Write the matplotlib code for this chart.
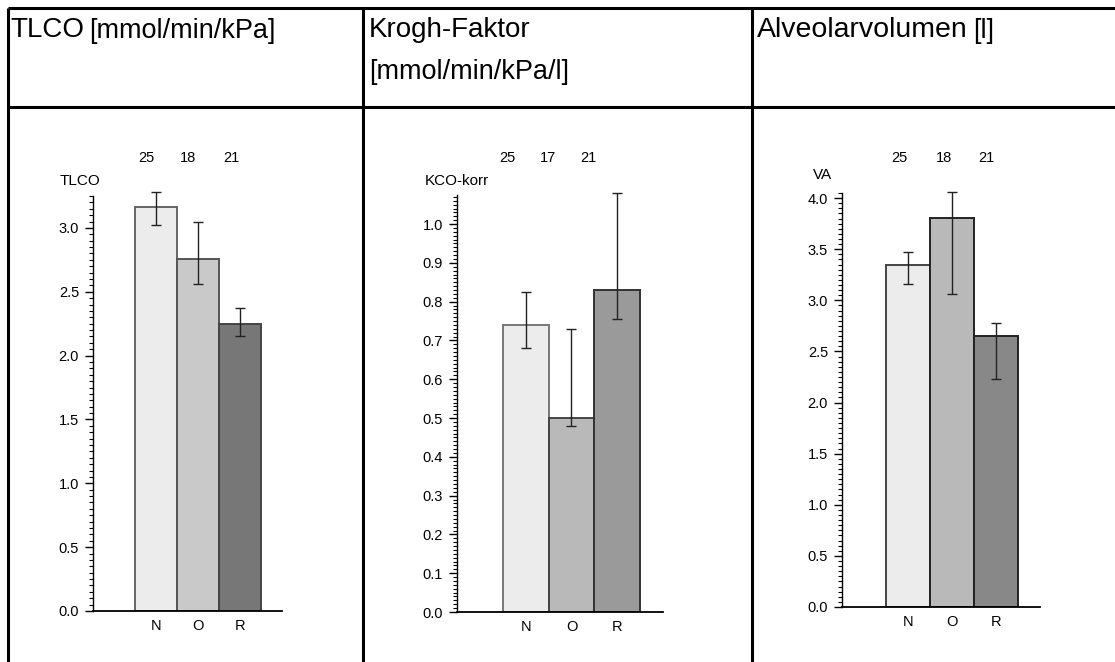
import matplotlib
matplotlib.use("Agg")
import matplotlib.pyplot as plt
from matplotlib.lines import Line2D
from matplotlib.ticker import MultipleLocator, FormatStrFormatter

plt.rcParams['font.family'] = ['Liberation Sans', 'DejaVu Sans']

W, H = 1115, 662
DPI = 100

groups = ["N", "O", "R"]

# TLCO [mmol/min/kPa]
tlco_n = [25, 18, 21]
tlco_mean = [3.16, 2.76, 2.25]
tlco_lo = [3.02, 2.56, 2.15]
tlco_hi = [3.28, 3.05, 2.37]

# Krogh-Faktor KCO-korr [mmol/min/kPa/l]
kco_n = [25, 17, 21]
kco_mean = [0.74, 0.50, 0.83]
kco_lo = [0.68, 0.48, 0.755]
kco_hi = [0.825, 0.73, 1.08]

# Alveolarvolumen VA [l]
va_n = [25, 18, 21]
va_mean = [3.35, 3.81, 2.65]
va_lo = [3.16, 3.06, 2.23]
va_hi = [3.47, 4.06, 2.78]

fig = plt.figure(figsize=(W / DPI, H / DPI), dpi=DPI)
fig.patch.set_facecolor("white")


def px_axes(x0, y_top, x1, y_bot):
    return fig.add_axes([x0 / W, 1 - y_bot / H, (x1 - x0) / W, (y_bot - y_top) / H])


def fig_line(x0, y0, x1, y1, lw=2.2):
    fig.add_artist(Line2D([x0 / W, x1 / W], [1 - y0 / H, 1 - y1 / H],
                          transform=fig.transFigure, color="black", lw=lw,
                          solid_capstyle="butt"))


def fig_text(x, y, s, size):
    return fig.text(x / W, 1 - y / H, s, fontsize=size, va="center", ha="left")


def unit_after(title, s, size):
    # unit label set right after a header title, one word space apart
    fig.add_artist(plt.Annotation(s, xy=(1, 0.5), xycoords=title,
                                  xytext=(4, -0.5), textcoords="offset points",
                                  fontsize=size, va="center", ha="left"))


# table grid
fig_line(8, 8, W, 8)
fig_line(8, 107, W, 107)
fig_line(8, 8, 8, H)
fig_line(363, 8, 363, H)
fig_line(752, 8, 752, H)

# header cells
t1 = fig_text(10, 30, "TLCO", 20)
unit_after(t1, "[mmol/min/kPa]", 19.5)
fig_text(369, 30, "Krogh-Faktor", 20)
fig_text(369, 72, "[mmol/min/kPa/l]", 19.5)
t3 = fig_text(757, 30, "Alveolarvolumen", 20.5)
unit_after(t3, "[l]", 19.5)


def panel(box, n, mean, lo, hi, colors, edges, ylim, major, minor,
          ylabel, ylabel_pos, count_dx, count_y):
    ax = px_axes(*box)
    xs = list(range(len(groups)))
    ax.bar(xs, mean, width=1.0, color=colors, edgecolor=edges, linewidth=1.4, zorder=2)
    yerr = [[m - l for m, l in zip(mean, lo)], [h - m for m, h in zip(mean, hi)]]
    eb = ax.errorbar(xs, mean, yerr=yerr, fmt="none", ecolor="#222222", elinewidth=1.0,
                     capsize=3.5, capthick=1.0, zorder=3)
    for art in eb.lines[1] + eb.lines[2]:
        art.set_clip_on(False)
    ax.set_xlim(-1.5, 3.0)
    ax.set_ylim(*ylim)
    ax.set_xticks(xs)
    ax.set_xticklabels(groups, fontsize=10.5)
    ax.tick_params(axis="x", length=0, pad=6)
    ax.yaxis.set_major_locator(MultipleLocator(major))
    ax.yaxis.set_minor_locator(MultipleLocator(minor))
    ax.yaxis.set_major_formatter(FormatStrFormatter("%.1f"))
    ax.tick_params(axis="y", which="major", length=6, width=1.0, labelsize=10.5, pad=4)
    ax.tick_params(axis="y", which="minor", length=3, width=0.8)
    for s in ("top", "right"):
        ax.spines[s].set_visible(False)
    ax.spines["left"].set_linewidth(1.0)
    ax.spines["bottom"].set_linewidth(1.3)
    ax.patch.set_alpha(0)
    # group sizes above the bars
    for x, dx, c in zip(xs, count_dx, n):
        ax.text(x + dx, count_y, str(c), transform=ax.get_xaxis_transform(),
                ha="center", va="center", fontsize=10.5)
    ax.text(ylabel_pos[0], ylabel_pos[1], ylabel, transform=ax.transAxes,
            ha="center", va="center", fontsize=11)
    return ax


panel((93, 196, 282, 611), tlco_n, tlco_mean, tlco_lo, tlco_hi,
      ["#ececec", "#c9c9c9", "#777777"], ["#666666", "#555555", "#444444"],
      (0, 3.25), 0.5, 0.05, "TLCO", (-0.07, 1.036), [-0.24, -0.23, -0.21], 1.0916)

panel((457, 195, 663, 612), kco_n, kco_mean, kco_lo, kco_hi,
      ["#ececec", "#b9b9b9", "#9a9a9a"], ["#777777", "#444444", "#333333"],
      (0, 1.075), 0.1, 0.01, "KCO-korr", (0.0, 1.034), [-0.39, -0.52, -0.63], 1.089)

panel((842, 193, 1040, 607), va_n, va_mean, va_lo, va_hi,
      ["#ececec", "#b9b9b9", "#888888"], ["#444444", "#222222", "#222222"],
      (0, 4.05), 0.5, 0.05, "VA", (-0.1, 1.044), [-0.2, -0.18, -0.23], 1.085)

fig.savefig("out.png", dpi=DPI, facecolor="white")
